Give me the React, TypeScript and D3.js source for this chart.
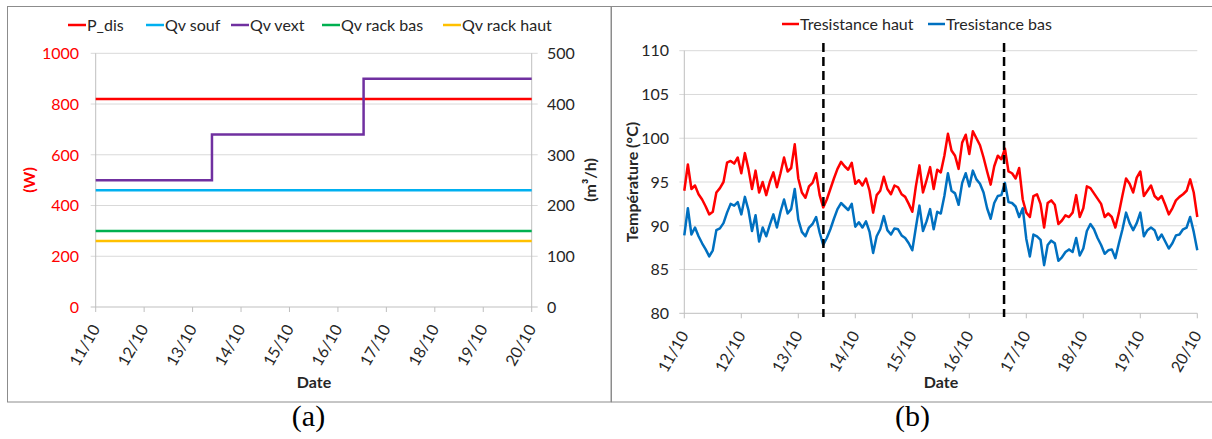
import React from "react";
import * as d3 from "d3";

// ---------- shared ----------
const dateTicks = ["11/10", "12/10", "13/10", "14/10", "15/10", "16/10", "17/10", "18/10", "19/10", "20/10"];
const START = new Date(2016, 9, 11, 0, 0);
const END = new Date(2016, 9, 20, 0, 0);
const tickDates = dateTicks.map((_, i) => d3.timeDay.offset(START, i));

// ---------- panel (a) ----------
const seriesA = ["P_dis", "Qv souf", "Qv vext", "Qv rack bas", "Qv rack haut"];
const colorsA = ["#FF0000", "#00B0F0", "#7030A0", "#00B050", "#FFC000"];
const pDisW = 820; // W (left axis)
const qvSouf = 230; // m3/h (right axis)
const qvRackBas = 150;
const qvRackHaut = 130;
const qvVextDates = [new Date(2016, 9, 11, 0, 0), new Date(2016, 9, 13, 9, 36), new Date(2016, 9, 16, 12, 43), END];
const qvVextValues = [250, 340, 450, 450];
const wTicks = [0, 200, 400, 600, 800, 1000];
const qTicks = [0, 100, 200, 300, 400, 500];

// ---------- panel (b) ----------
const seriesB = ["Tresistance haut", "Tresistance bas"];
const colorsB = ["#FF0000", "#0070C0"];
const tTicks = [80, 85, 90, 95, 100, 105, 110];
const markerDates = [new Date(2016, 9, 13, 10, 34), new Date(2016, 9, 16, 14, 38)];
const STEP_HOURS = 1.5;
const tHaut = [
  94.0, 97.0, 94.2, 94.6, 93.6, 93.0, 92.2, 91.3, 91.6, 93.8, 94.3, 95.0, 97.2, 97.4, 97.1, 97.8,
  96.0, 98.3, 96.5, 94.2, 96.3, 93.8, 95.0, 93.5, 95.0, 96.1, 94.4, 96.0, 97.8, 96.2, 96.6, 99.3,
  95.4, 93.8, 93.2, 94.5, 94.9, 96.0, 93.5, 92.1, 93.0, 94.2, 95.4, 96.5, 97.3, 96.8, 96.4, 97.2,
  94.8, 95.2, 94.6, 95.4, 94.0, 91.5, 93.5, 94.0, 95.6, 94.2, 93.6, 94.6, 94.4, 93.6, 93.3, 92.5,
  91.6, 94.5, 96.9, 93.8, 95.2, 96.7, 94.2, 96.4, 96.1, 98.0, 100.5, 98.6, 98.0, 96.5, 99.5, 100.4,
  98.2, 100.8, 100.0, 99.2, 97.8, 96.2, 94.7, 96.8, 98.0, 97.6, 98.8, 96.2, 96.0, 95.4, 96.6, 93.0,
  91.5, 91.0, 93.4, 93.6, 92.5, 89.8, 92.6, 92.9, 92.4, 90.2, 90.6, 91.2, 91.0, 91.5, 93.5, 91.0,
  92.0, 94.5, 94.3, 93.7, 93.1, 92.5, 91.0, 91.4, 91.0, 89.8, 91.5, 93.5, 95.4, 94.8, 93.8, 95.5,
  96.2, 93.4, 94.0, 94.6, 93.4, 93.0, 93.4, 92.4, 91.3, 92.0, 92.9, 93.3, 93.6, 94.0, 95.3, 93.8,
  91.0,
];
const tBas = [
  88.9, 92.0, 89.0, 89.8, 88.8, 88.0, 87.3, 86.5, 87.2, 89.5, 89.7, 90.3, 91.5, 92.5, 92.3, 92.7,
  91.3, 93.3, 91.8, 89.4, 91.2, 88.2, 89.8, 88.8, 90.1, 91.3, 89.8, 91.6, 93.0, 91.4, 91.9, 94.2,
  90.7, 89.3, 88.8, 89.8, 90.2, 91.0, 89.2, 87.8, 88.6, 89.6, 90.8, 91.9, 92.6, 92.2, 91.8, 92.5,
  89.9, 90.4, 89.8, 90.5, 89.3, 86.9, 88.8, 89.6, 91.1, 89.5, 89.0, 89.7, 89.6, 88.9, 88.6, 88.0,
  87.2, 89.8, 92.3, 89.4, 90.5, 91.9, 89.6, 91.6, 91.4, 93.4, 96.0, 94.0, 93.7, 92.4, 94.9, 96.0,
  94.5, 96.3, 95.3, 94.8, 93.8, 92.0, 90.8, 92.6, 93.4, 93.5, 94.9, 92.7, 92.6, 92.2, 91.0, 92.0,
  88.5, 86.5, 89.0, 88.8, 88.4, 85.5, 87.8, 88.3, 88.0, 86.0, 86.4, 87.0, 87.3, 87.0, 88.6, 86.6,
  87.4, 89.4, 90.2, 89.6, 88.6, 87.8, 86.8, 87.2, 87.3, 86.3, 88.0, 89.6, 91.5, 90.3, 89.5, 90.3,
  91.5, 88.8, 89.5, 89.8, 89.5, 88.4, 89.0, 88.2, 87.4, 88.0, 88.9, 89.0, 89.6, 89.8, 91.0, 89.3,
  87.2,
];

const FONT = "Lato, 'Open Sans', sans-serif";
const GRID = "#D9D9D9";
const AXIS = "#BFBFBF";
const TXT = "#262626";

function PanelA() {
  const left = 95.7, right = 531.7, top = 53.3, bottom = 307;
  const x = d3.scaleTime().domain([START, END]).range([left, right]);
  const yW = d3.scaleLinear().domain([0, 1000]).range([bottom, top]);
  const yQ = d3.scaleLinear().domain([0, 500]).range([bottom, top]);
  const hline = (y: number) => d3.line<Date>().x((d) => x(d)).y(() => y)([START, END]) || "";
  const vext = d3
    .line<number>()
    .x((i) => x(qvVextDates[i]))
    .y((i) => yQ(qvVextValues[i]))
    .curve(d3.curveStepAfter)(qvVextValues.map((_, i) => i)) || "";
  const legendX = [68, 146, 231, 322, 443];
  return (
    <g>
      <rect x={7.5} y={6.5} width={603.5} height={395.5} fill="#fff" stroke="#8C8C8C" strokeWidth={1} />
      {wTicks.map((t) => (
        <line key={"g" + t} x1={left - 5} x2={right + 6} y1={yW(t)} y2={yW(t)} stroke={t === 0 ? AXIS : GRID} strokeWidth={1} />
      ))}
      <line x1={left} x2={left} y1={top} y2={bottom} stroke={AXIS} />
      <line x1={right} x2={right} y1={top} y2={bottom} stroke={AXIS} />
      {tickDates.map((d, i) => (
        <line key={"xt" + i} x1={x(d)} x2={x(d)} y1={bottom} y2={bottom + 5} stroke={AXIS} />
      ))}
      {wTicks.map((t) => (
        <text key={"wl" + t} x={79} y={yW(t)} dy="0.36em" textAnchor="end" fontSize={16} fill="#FF0000" fontFamily={FONT}>
          {t}
        </text>
      ))}
      {qTicks.map((t) => (
        <text key={"ql" + t} x={547} y={yQ(t)} dy="0.36em" textAnchor="start" fontSize={16} fill={TXT} fontFamily={FONT}>
          {t}
        </text>
      ))}
      {tickDates.map((d, i) => (
        <text
          key={"xl" + i}
          transform={`translate(${x(d)},${bottom + 19}) rotate(-60)`}
          dy="0.35em"
          textAnchor="end"
          fontSize={16}
          fill={TXT}
          fontFamily={FONT}
        >
          {dateTicks[i]}
        </text>
      ))}
      <text x={314} y={382} dy="0.35em" textAnchor="middle" fontSize={16} fontWeight="bold" fill={TXT} fontFamily={FONT}>
        Date
      </text>
      <text transform={`translate(29,180) rotate(-90)`} dy="0.35em" textAnchor="middle" fontSize={16} fontWeight="bold" fill="#FF0000" fontFamily={FONT}>
        (W)
      </text>
      <text transform={`translate(590.5,180) rotate(-90)`} dy="0.35em" textAnchor="middle" fontSize={16} fontWeight="bold" fill={TXT} fontFamily={FONT}>
        (m³/h)
      </text>
      <path d={hline(yQ(qvRackHaut))} stroke={colorsA[4]} strokeWidth={2.5} fill="none" />
      <path d={hline(yQ(qvRackBas))} stroke={colorsA[3]} strokeWidth={2.5} fill="none" />
      <path d={hline(yQ(qvSouf))} stroke={colorsA[1]} strokeWidth={2.5} fill="none" />
      <path d={hline(yW(pDisW))} stroke={colorsA[0]} strokeWidth={2.5} fill="none" />
      <path d={vext} stroke={colorsA[2]} strokeWidth={2.5} fill="none" />
      {seriesA.map((s, i) => (
        <g key={s}>
          <line x1={legendX[i]} x2={legendX[i] + 18} y1={25} y2={25} stroke={colorsA[i]} strokeWidth={2.5} />
          <text x={legendX[i] + 19} y={25} dy="0.36em" fontSize={16} fill={TXT} fontFamily={FONT}>
            {s}
          </text>
        </g>
      ))}
      <text x={308.5} y={426} textAnchor="middle" fontSize={30} fontFamily="'Liberation Serif', 'Times New Roman', serif" fill="#000">
        (a)
      </text>
    </g>
  );
}

function PanelB() {
  const left = 684.3, right = 1197.3, top = 50.7, bottom = 313.3;
  const x = d3.scaleTime().domain([START, END]).range([left, right]);
  const y = d3.scaleLinear().domain([80, 110]).range([bottom, top]);
  const timeOf = (i: number) => new Date(START.getTime() + i * STEP_HOURS * 3600 * 1000);
  const line = d3
    .line<number>()
    .x((_, i) => x(timeOf(i)))
    .y((v) => y(v))
    .curve(d3.curveLinear);
  const legendX = [782, 928];
  return (
    <g>
      <rect x={611.5} y={6.5} width={610} height={395.5} fill="#fff" stroke="#8C8C8C" strokeWidth={1} />
      {tTicks.map((t) => (
        <line key={"g" + t} x1={left - 5} x2={right} y1={y(t)} y2={y(t)} stroke={t === 80 ? AXIS : GRID} strokeWidth={1} />
      ))}
      <line x1={left} x2={left} y1={top} y2={bottom} stroke={AXIS} />
      {tickDates.map((d, i) => (
        <line key={"xt" + i} x1={x(d)} x2={x(d)} y1={bottom} y2={bottom + 5} stroke={AXIS} />
      ))}
      {tTicks.map((t) => (
        <text key={"tl" + t} x={669} y={y(t)} dy="0.36em" textAnchor="end" fontSize={16} fill={TXT} fontFamily={FONT}>
          {t}
        </text>
      ))}
      {tickDates.map((d, i) => (
        <text
          key={"xl" + i}
          transform={`translate(${x(d)},${bottom + 19}) rotate(-60)`}
          dy="0.35em"
          textAnchor="end"
          fontSize={16}
          fill={TXT}
          fontFamily={FONT}
        >
          {dateTicks[i]}
        </text>
      ))}
      <text x={941} y={382} dy="0.35em" textAnchor="middle" fontSize={16} fontWeight="bold" fill={TXT} fontFamily={FONT}>
        Date
      </text>
      <text transform={`translate(632,182) rotate(-90)`} dy="0.35em" textAnchor="middle" fontSize={16} fontWeight="bold" fill={TXT} fontFamily={FONT}>
        Température (°C)
      </text>
      <path d={line(tHaut) || ""} stroke={colorsB[0]} strokeWidth={2.5} fill="none" strokeLinejoin="round" />
      <path d={line(tBas) || ""} stroke={colorsB[1]} strokeWidth={2.5} fill="none" strokeLinejoin="round" />
      {markerDates.map((d, i) => (
        <line key={"m" + i} x1={x(d)} x2={x(d)} y1={43} y2={317} stroke="#000" strokeWidth={2.5} strokeDasharray="9 5" />
      ))}
      {seriesB.map((s, i) => (
        <g key={s}>
          <line x1={legendX[i]} x2={legendX[i] + 17} y1={24} y2={24} stroke={colorsB[i]} strokeWidth={2.5} />
          <text x={legendX[i] + 18} y={24} dy="0.36em" fontSize={16} fill={TXT} fontFamily={FONT}>
            {s}
          </text>
        </g>
      ))}
      <text x={912.5} y={426} textAnchor="middle" fontSize={30} fontFamily="'Liberation Serif', 'Times New Roman', serif" fill="#000">
        (b)
      </text>
    </g>
  );
}

export default function App() {
  return (
    <svg
      width={1212}
      height={439}
      viewBox="0 0 1212 439"
      style={{ position: "absolute", left: 0, top: 0, background: "#fff" }}
    >
      <rect x={0} y={0} width={1212} height={439} fill="#fff" />
      <PanelA />
      <PanelB />
    </svg>
  );
}
